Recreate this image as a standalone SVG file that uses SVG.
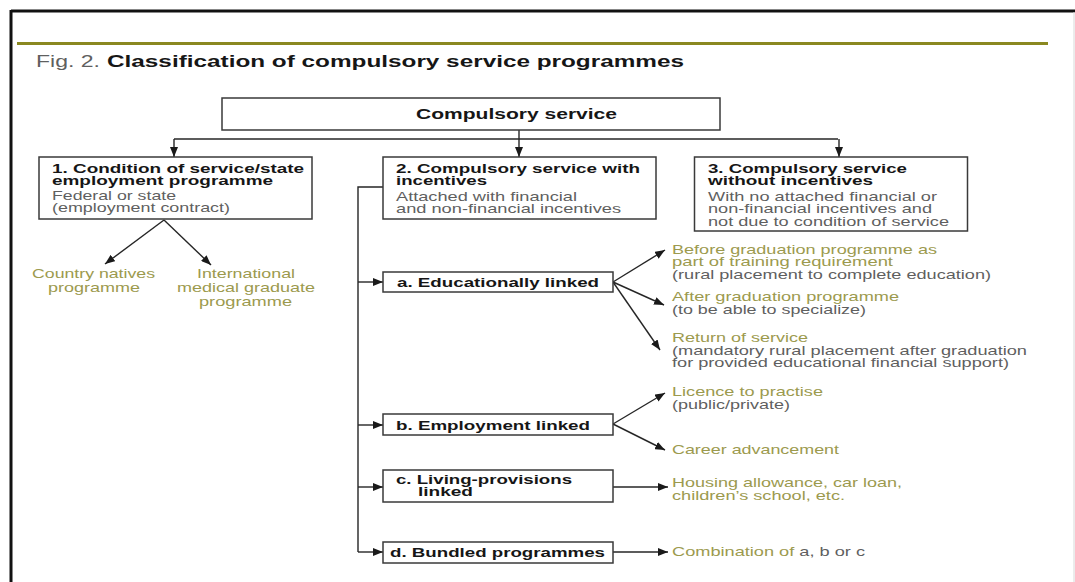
<svg xmlns="http://www.w3.org/2000/svg" width="1075" height="582" viewBox="0 0 1075 582">
<style>
text{font-family:"Liberation Sans",Arial,Helvetica,sans-serif;font-size:13px}
.b{font-weight:bold;fill:#161616}
.g{fill:#5f5f5f}
.o{fill:#9c9a4e}
.box{fill:#fff;stroke:#3a3a3a;stroke-width:1.5}
.ln{fill:none;stroke:#262626;stroke-width:1.4}
.ar{marker-end:url(#ah)}
</style>
<defs>
<marker id="ah" viewBox="0 0 10 8" refX="10" refY="4" markerWidth="10" markerHeight="8" markerUnits="userSpaceOnUse" orient="auto">
<path d="M0,0 L10,4 L0,8 Z" fill="#1a1a1a"/>
</marker>
</defs>
<rect width="1075" height="582" fill="#fff"/>
<g id="frame">
<line x1="11" y1="11" x2="1075" y2="11" stroke="#111" stroke-width="3"/>
<line x1="11" y1="10" x2="11" y2="582" stroke="#111" stroke-width="3"/>
<line x1="1074" y1="12" x2="1074" y2="582" stroke="#d8d8d8" stroke-width="1"/>
<line x1="17" y1="43.5" x2="1048" y2="43.5" stroke="#8a8820" stroke-width="3"/>
</g>
<g id="title">
<text x="36" y="66.5" class="g" style="font-size:17px" textLength="64" lengthAdjust="spacingAndGlyphs">Fig. 2.</text>
<text x="107" y="66.5" class="b" style="font-size:17px" textLength="577" lengthAdjust="spacingAndGlyphs">Classification of compulsory service programmes</text>
</g>
<g id="connectors">
<line class="ln ar" x1="519" y1="130" x2="519" y2="157"/>
<polyline class="ln" points="174,139 838,139"/>
<line class="ln ar" x1="174" y1="139" x2="174" y2="157"/>
<line class="ln ar" x1="839" y1="139" x2="839" y2="157"/>
<line class="ln ar" x1="164" y1="220" x2="105" y2="264"/>
<line class="ln ar" x1="164" y1="220" x2="211" y2="265"/>
<polyline class="ln" points="383,187 358,187 358,552"/>
<line class="ln ar" x1="358" y1="282" x2="383" y2="282"/>
<line class="ln ar" x1="358" y1="425" x2="383" y2="425"/>
<line class="ln ar" x1="358" y1="487" x2="383" y2="487"/>
<line class="ln ar" x1="358" y1="552" x2="383" y2="552"/>
<line class="ln ar" x1="613" y1="282" x2="665" y2="250"/>
<line class="ln ar" x1="613" y1="282" x2="664" y2="305"/>
<line class="ln ar" x1="613" y1="282" x2="660" y2="350"/>
<line class="ln ar" x1="613" y1="424" x2="665" y2="393"/>
<line class="ln ar" x1="613" y1="424" x2="665" y2="450"/>
<line class="ln ar" x1="613" y1="487" x2="668" y2="487"/>
<line class="ln ar" x1="613" y1="552" x2="668" y2="552"/>
</g>
<g id="root">
<rect class="box" x="222" y="98" width="498" height="32"/>
<text x="416" y="118.5" class="b" style="font-size:15px" textLength="201" lengthAdjust="spacingAndGlyphs">Compulsory service</text>
</g>
<g id="n1">
<rect class="box" x="39" y="157" width="273" height="62"/>
<text x="52" y="172.5" class="b" textLength="252" lengthAdjust="spacingAndGlyphs">1. Condition of service/state</text>
<text x="52" y="184.5" class="b" textLength="221" lengthAdjust="spacingAndGlyphs">employment programme</text>
<text x="52" y="199.5" class="g" textLength="124" lengthAdjust="spacingAndGlyphs">Federal or state</text>
<text x="52" y="212" class="g" textLength="178" lengthAdjust="spacingAndGlyphs">(employment contract)</text>
</g>
<g id="n1a">
<text x="32" y="277.5" class="o" textLength="123" lengthAdjust="spacingAndGlyphs">Country natives</text>
<text x="48" y="291.5" class="o" textLength="92" lengthAdjust="spacingAndGlyphs">programme</text>
</g>
<g id="n1b">
<text x="197" y="277.5" class="o" textLength="98" lengthAdjust="spacingAndGlyphs">International</text>
<text x="177" y="291.5" class="o" textLength="138" lengthAdjust="spacingAndGlyphs">medical graduate</text>
<text x="199" y="306" class="o" textLength="93" lengthAdjust="spacingAndGlyphs">programme</text>
</g>
<g id="n2">
<rect class="box" x="383" y="157" width="273" height="62"/>
<text x="396" y="172.5" class="b" textLength="244" lengthAdjust="spacingAndGlyphs">2. Compulsory service with</text>
<text x="396" y="185" class="b" textLength="91" lengthAdjust="spacingAndGlyphs">incentives</text>
<text x="396" y="200.5" class="g" textLength="181" lengthAdjust="spacingAndGlyphs">Attached with financial</text>
<text x="396" y="213" class="g" textLength="225" lengthAdjust="spacingAndGlyphs">and non-financial incentives</text>
</g>
<g id="n3">
<rect class="box" x="694.5" y="157" width="273" height="74"/>
<text x="708" y="173" class="b" textLength="199" lengthAdjust="spacingAndGlyphs">3. Compulsory service</text>
<text x="708" y="185" class="b" textLength="165" lengthAdjust="spacingAndGlyphs">without incentives</text>
<text x="708" y="200.5" class="g" textLength="229" lengthAdjust="spacingAndGlyphs">With no attached financial or</text>
<text x="708" y="213" class="g" textLength="224" lengthAdjust="spacingAndGlyphs">non-financial incentives and</text>
<text x="708" y="225.5" class="g" textLength="241" lengthAdjust="spacingAndGlyphs">not due to condition of service</text>
</g>
<g id="na">
<rect class="box" x="383" y="272" width="230" height="20"/>
<text x="397" y="286.5" class="b" textLength="202" lengthAdjust="spacingAndGlyphs">a. Educationally linked</text>
</g>
<g id="na1">
<text x="672" y="253.5" class="o" textLength="265" lengthAdjust="spacingAndGlyphs">Before graduation programme as</text>
<text x="672" y="265.5" class="o" textLength="221" lengthAdjust="spacingAndGlyphs">part of training requirement</text>
<text x="672" y="279" class="g" textLength="319" lengthAdjust="spacingAndGlyphs">(rural placement to complete education)</text>
</g>
<g id="na2">
<text x="672" y="301" class="o" textLength="227" lengthAdjust="spacingAndGlyphs">After graduation programme</text>
<text x="672" y="314" class="g" textLength="194" lengthAdjust="spacingAndGlyphs">(to be able to specialize)</text>
</g>
<g id="na3">
<text x="672" y="342" class="o" textLength="136" lengthAdjust="spacingAndGlyphs">Return of service</text>
<text x="672" y="355" class="g" textLength="355" lengthAdjust="spacingAndGlyphs">(mandatory rural placement after graduation</text>
<text x="672" y="367" class="g" textLength="337" lengthAdjust="spacingAndGlyphs">for provided educational financial support)</text>
</g>
<g id="nb">
<rect class="box" x="383" y="414" width="230" height="21"/>
<text x="396" y="429.5" class="b" textLength="194" lengthAdjust="spacingAndGlyphs">b. Employment linked</text>
</g>
<g id="nb1">
<text x="672" y="396" class="o" textLength="151" lengthAdjust="spacingAndGlyphs">Licence to practise</text>
<text x="672" y="408.5" class="g" textLength="118" lengthAdjust="spacingAndGlyphs">(public/private)</text>
</g>
<g id="nb2">
<text x="672" y="453.5" class="o" textLength="167" lengthAdjust="spacingAndGlyphs">Career advancement</text>
</g>
<g id="nc">
<rect class="box" x="383" y="470" width="230" height="32"/>
<text x="396" y="483.5" class="b" textLength="176" lengthAdjust="spacingAndGlyphs">c. Living-provisions</text>
<text x="418" y="496" class="b" textLength="55" lengthAdjust="spacingAndGlyphs">linked</text>
</g>
<g id="nc1">
<text x="672" y="486.5" class="o" textLength="230" lengthAdjust="spacingAndGlyphs">Housing allowance, car loan,</text>
<text x="672" y="499.5" class="o" textLength="173" lengthAdjust="spacingAndGlyphs">children’s school, etc.</text>
</g>
<g id="nd">
<rect class="box" x="383" y="542" width="230" height="21"/>
<text x="390" y="557" class="b" textLength="215" lengthAdjust="spacingAndGlyphs">d. Bundled programmes</text>
</g>
<g id="nd1">
<text x="672" y="556" textLength="193" lengthAdjust="spacingAndGlyphs"><tspan class="o">Combination of </tspan><tspan class="g">a, b or c</tspan></text>
</g>
</svg>
